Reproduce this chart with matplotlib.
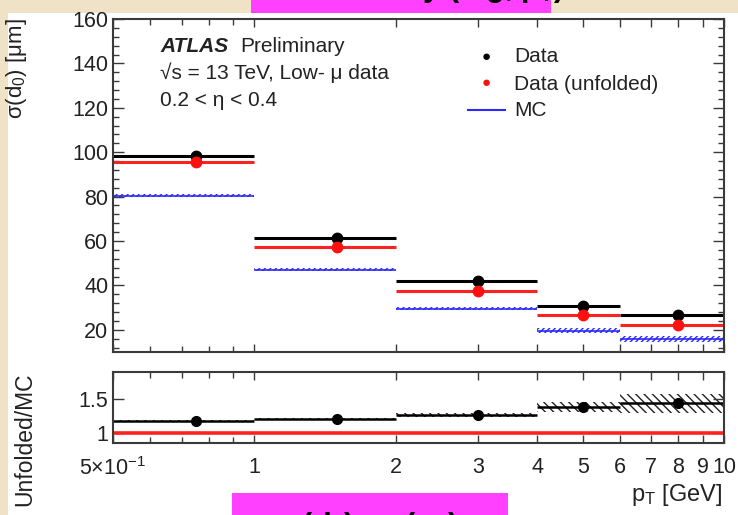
import matplotlib
matplotlib.use("Agg")
import matplotlib.pyplot as plt
import matplotlib.ticker as mticker
from matplotlib.patches import Rectangle

plt.rcParams['font.family'] = ['Liberation Sans', 'DejaVu Sans']
plt.rcParams['mathtext.fontset'] = 'custom'
plt.rcParams['mathtext.rm'] = 'Liberation Sans'
plt.rcParams['mathtext.it'] = 'Liberation Sans:italic'
plt.rcParams['mathtext.default'] = 'regular'
plt.rcParams['hatch.linewidth'] = 1.0

# pT bins [GeV]
bin_edges = [0.5, 1.0, 2.0, 4.0, 6.0, 10.0]
bin_centres = [0.75, 1.5, 3.0, 5.0, 8.0]

# d0 resolution [um]
data_res = [98.3, 61.2, 42.0, 30.9, 26.5]
unfolded_res = [95.7, 57.2, 37.3, 26.8, 22.3]
mc_res = [80.4, 47.1, 29.5, 19.5, 15.9]
mc_err = [0.8, 0.8, 0.8, 1.1, 1.2]

# unfolded / MC ratio with uncertainty band
ratio = [1.18, 1.21, 1.27, 1.39, 1.44]
ratio_err = [0.01, 0.015, 0.025, 0.07, 0.14]

xtick_vals = [0.5, 1, 2, 3, 4, 5, 6, 7, 8, 9, 10]
xtick_labels = ['5\u00d710$^{-1}$', '1', '2', '3', '4', '5', '6', '7', '8', '9', '10']

W, H = 738, 515
fig = plt.figure(figsize=(W / 100, H / 100), dpi=100)
fig.patch.set_facecolor('#efe2c6')


def fx(px):
    return px / W


def fy(py):
    return 1 - py / H


# white page area
fig.patches.append(Rectangle((fx(8), 0), 1 - fx(8), fy(13), transform=fig.transFigure,
                             facecolor='white', edgecolor='none', zorder=-5))

frame_col = '#3a3a3a'
txt_col = '#222222'
ax = fig.add_axes([fx(113), fy(352), fx(724) - fx(113), fy(19) - fy(352)])
axr = fig.add_axes([fx(113), fy(443), fx(724) - fx(113), fy(372) - fy(443)])

for a in (ax, axr):
    a.set_facecolor('white')
    a.set_xscale('log')
    a.set_xlim(0.5, 10.0)
    for s in a.spines.values():
        s.set_color(frame_col)
        s.set_linewidth(1.5)
    a.xaxis.set_major_locator(mticker.FixedLocator(xtick_vals))
    a.xaxis.set_minor_locator(mticker.FixedLocator([0.6, 0.7, 0.8, 0.9]))
    a.tick_params(which='both', direction='in', top=True, right=True, color=frame_col,
                  labelsize=15.5, width=1.0, labelcolor=txt_col)
    a.tick_params(which='major', length=8)
    a.tick_params(which='minor', length=4)

# ---- main panel ----
ax.set_ylim(10, 160)
ax.yaxis.set_major_locator(mticker.MultipleLocator(20))
ax.yaxis.set_minor_locator(mticker.MultipleLocator(4))
ax.set_xticklabels([])
ax.tick_params(axis='x', which='major', length=6)

lo = bin_edges[:-1]
hi = bin_edges[1:]
for i in range(len(bin_centres)):
    ax.fill_between([lo[i], hi[i]], mc_res[i] - mc_err[i], mc_res[i] + mc_err[i],
                    facecolor='none', edgecolor='#2a2aff', hatch='//////', linewidth=0)
ax.hlines(mc_res, lo, hi, color='#2a2aff', lw=1.2)
ax.hlines(data_res, lo, hi, color='black', lw=2.2)
ax.hlines(unfolded_res, lo, hi, color='#ff2020', lw=2.2)
ax.plot(bin_centres, data_res, 'o', color='black', ms=7.5)
ax.plot(bin_centres, unfolded_res, 'o', color='#ff1010', ms=7.5)

# legend
fig.text(fx(486), fy(57), '\u25CF', color='black', fontsize=11, ha='center', va='center')
fig.text(fx(486), fy(83), '\u25CF', color='#ff1010', fontsize=11, ha='center', va='center')
fig.lines.append(plt.Line2D([fx(468), fx(505)], [fy(110), fy(110)], transform=fig.transFigure,
                            color='#2a2aff', lw=1.5))
fig.text(fx(514), fy(57), 'Data', fontsize=15, va='center', color=txt_col)
fig.text(fx(514), fy(84), 'Data (unfolded)', fontsize=15, va='center', color=txt_col)
fig.text(fx(514), fy(111), 'MC', fontsize=15, va='center', color=txt_col)

# labels inside the plot
fig.text(fx(160), fy(47), 'ATLAS', fontsize=15, fontweight='bold', style='italic',
         va='center', color=txt_col)
fig.text(fx(240), fy(47), 'Preliminary', fontsize=15, va='center', color=txt_col)
fig.text(fx(160), fy(73), '\u221As = 13 TeV, Low- \u03bc data', fontsize=15, va='center',
         color=txt_col)
fig.text(fx(160), fy(100), '0.2 < \u03b7 < 0.4', fontsize=15, va='center', color=txt_col)

fig.text(fx(17), fy(18), '\u03c3(d$_0$) [\u03bcm]', rotation=90, fontsize=16,
         ha='center', va='top', color=txt_col)

# ---- ratio panel ----
axr.set_ylim(0.86, 1.9)
axr.yaxis.set_major_locator(mticker.FixedLocator([1.0, 1.5]))
axr.yaxis.set_major_formatter(mticker.FixedFormatter(['1', '1.5']))
axr.yaxis.set_minor_locator(mticker.NullLocator())
axr.set_xticklabels(xtick_labels)
axr.tick_params(axis='x', which='major', pad=10, length=6)
axr.tick_params(axis='x', which='minor', length=4)
for i in range(len(bin_centres)):
    axr.fill_between([lo[i], hi[i]], ratio[i] - ratio_err[i], ratio[i] + ratio_err[i],
                     facecolor='none', edgecolor='#222222', hatch='\\\\\\\\', linewidth=0)
axr.hlines([1.0], 0.5, 10, color='#ff2020', lw=2.6)
axr.hlines(ratio, lo, hi, color='black', lw=1.8)
axr.plot(bin_centres, ratio, 'o', color='black', ms=7)

fig.text(fx(25), fy(372), 'Unfolded/MC', rotation=90, fontsize=16.5, ha='center', va='top',
         color=txt_col)
fig.text(fx(722), fy(495), 'p$_T$ [GeV]', fontsize=17, ha='right', va='center',
         color=txt_col)

# slide banners
top_box = Rectangle((fx(251), fy(13)), fx(551) - fx(251), 13 / H, transform=fig.transFigure,
                    facecolor='#ff40ff', edgecolor='none', zorder=5)
bot_box = Rectangle((fx(232), 0), fx(508) - fx(232), 22 / H, transform=fig.transFigure,
                    facecolor='#ff40ff', edgecolor='none', zorder=5)
fig.patches.extend([top_box, bot_box])
fig.text(fx(401), fy(-4), 'Resolution by (log, p$_T$)', fontsize=22,
         fontweight='bold', ha='center', va='baseline', zorder=6)
fig.text(fx(370), fy(510), '\u03c3(d$_0$) vs (p$_T$)', fontsize=22,
         fontweight='bold', ha='center', va='top', zorder=6)

fig.savefig('out.png', dpi=100, facecolor=fig.get_facecolor())
